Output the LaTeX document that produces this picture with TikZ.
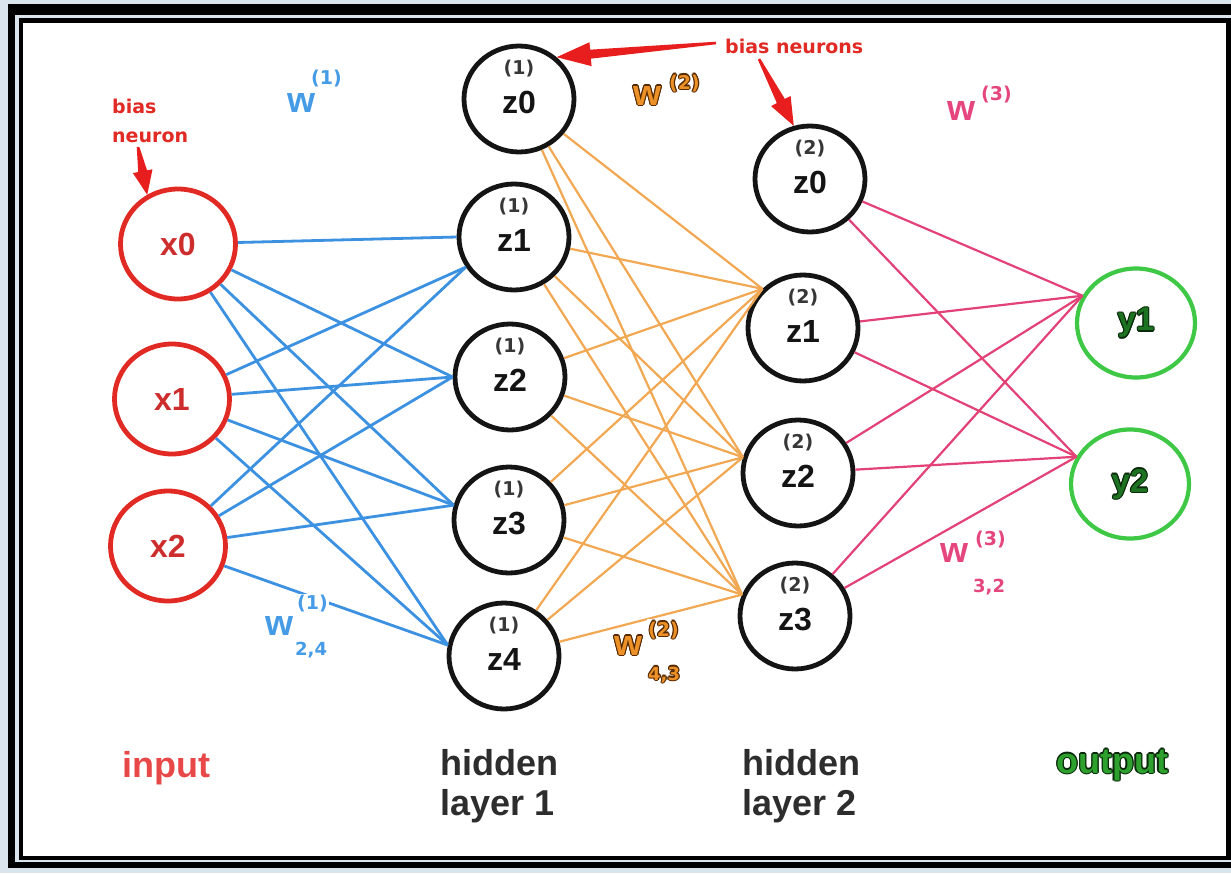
\documentclass[tikz,border=0pt]{standalone}
\usepackage{fontspec}
\setmainfont{Liberation Sans}
\newfontfamily\djv{DejaVu Sans}
\usepackage{graphicx}
\usetikzlibrary{shapes.geometric,calc}
\definecolor{framebg}{RGB}{218,228,236}
\definecolor{blk}{RGB}{20,20,20}
\definecolor{redc}{RGB}{226,42,36}
\definecolor{redtxt}{RGB}{205,45,45}
\definecolor{inputred}{RGB}{232,72,72}
\definecolor{arrowred}{RGB}{232,30,30}
\definecolor{bluec}{RGB}{60,145,225}
\definecolor{bluetxt}{RGB}{70,155,230}
\definecolor{orc}{RGB}{242,168,82}
\definecolor{ortxt}{RGB}{235,145,40}
\definecolor{orout}{RGB}{85,40,0}
\definecolor{pkc}{RGB}{226,66,118}
\definecolor{pktxt}{RGB}{228,70,125}
\definecolor{grn}{RGB}{62,200,70}
\definecolor{grntxt}{RGB}{45,160,45}
\definecolor{ygrn}{RGB}{30,115,35}
\definecolor{grnout}{RGB}{10,40,10}
\definecolor{zgray}{RGB}{55,55,55}
\definecolor{lblgray}{RGB}{45,45,45}
\newcommand\halo[3]{\leavevmode
  \rlap{\color{#1}\hspace*{-1.2pt}#3}%
  \rlap{\color{#1}\hspace*{1.2pt}#3}%
  \rlap{\color{#1}\raisebox{1.2pt}{#3}}%
  \rlap{\color{#1}\raisebox{-1.2pt}{#3}}%
  \rlap{\color{#1}\hspace*{-0.85pt}\raisebox{0.85pt}{#3}}%
  \rlap{\color{#1}\hspace*{0.85pt}\raisebox{0.85pt}{#3}}%
  \rlap{\color{#1}\hspace*{-0.85pt}\raisebox{-0.85pt}{#3}}%
  \rlap{\color{#1}\hspace*{0.85pt}\raisebox{-0.85pt}{#3}}%
  {\color{#2}#3}}
\newcommand\skarrow[4]{%
  \path ($(#2)!#3!(#1)$) coordinate (hb);
  \fill[arrowred] ($(#1)!1.3pt!90:(#2)$) -- ($(hb)!4.5pt!-90:(#1)$) -- ($(hb)!#4!-90:(#1)$) -- (#2)
     -- ($(hb)!#4!90:(#1)$) -- ($(hb)!4.5pt!90:(#1)$) -- ($(#1)!1.3pt!-90:(#2)$) -- cycle;}
\begin{document}
\begin{tikzpicture}[x=1pt,y=-1pt,
  hid/.style={ellipse,draw=blk,line width=4.8pt,minimum width=110pt,minimum height=106pt,inner sep=0pt},
  inp/.style={ellipse,draw=redc,line width=4.8pt,minimum width=115pt,minimum height=110pt,inner sep=0pt},
  outp/.style={ellipse,draw=grn,line width=4.2pt,minimum width=118pt,minimum height=109pt,inner sep=0pt},
  bl/.style={draw=bluec,line width=2.8pt},
  orl/.style={draw=orc,line width=2.2pt},
  pkl/.style={draw=pkc,line width=2.2pt},
  zsup/.style={inner sep=0pt,font=\djv\bfseries\fontsize{19}{19}\selectfont,text=zgray},
  zlab/.style={inner sep=0pt,font=\bfseries\fontsize{32}{32}\selectfont,text=blk},
  xlab/.style={inner sep=0pt,font=\bfseries\fontsize{32}{32}\selectfont,text=redtxt},
  ylab/.style={inner sep=0pt,font=\bfseries\fontsize{33}{33}\selectfont},
  txt/.style={inner sep=0pt,anchor=base west},
  wbig/.style={txt,font=\bfseries\fontsize{36}{36}\selectfont},
  wsmall/.style={txt,font=\djv\bfseries\fontsize{19}{19}\selectfont},
  wsub/.style={txt,font=\djv\bfseries\fontsize{18}{18}\selectfont},
  biaslab/.style={txt,font=\djv\bfseries\fontsize{19}{19}\selectfont,text=redc},
  layerlab/.style={txt,font=\bfseries\fontsize{36}{36}\selectfont},
  whitebg/.style={fill=white,inner sep=1pt}
]
\useasboundingbox (0,0) rectangle (1231,873);
% frame
\fill[framebg] (0,0) rectangle (1231,873);
\fill[black] (8,4) rectangle (1240,868);
\fill[framebg] (15,15) rectangle (1236,862);
\fill[black] (19,18) rectangle (1236,860);
\fill[white] (23,23) rectangle (1226,856);

% neurons
\node[inp] (x0) at (178,244) {};
\node[inp] (x1) at (172,399) {};
\node[inp] (x2) at (168,546) {};
\node[hid] (h10) at (519,99) {};
\node[hid] (h11) at (514,237) {};
\node[hid] (h12) at (510,377) {};
\node[hid] (h13) at (509,520) {};
\node[hid] (h14) at (504,656) {};
\node[hid] (h20) at (810,179) {};
\node[hid] (h21) at (803,328) {};
\node[hid] (h22) at (798,473) {};
\node[hid] (h23) at (795,616) {};
\node[outp] (y1) at (1136,323) {};
\node[outp] (y2) at (1130,484) {};

% connectors: input -> hidden 1
\draw[bl] (x0) -- (h11.180);
\foreach \s in {x1,x2} \draw[bl] (\s) -- (h11.212);
\foreach \s in {x0,x1,x2} {
  \draw[bl] (\s) -- (h12.180);
  \draw[bl] (\s) -- (h13.165);
  \draw[bl] (\s) -- (h14.169);
}
% hidden 1 -> hidden 2
\foreach \s in {h10,h11,h12,h13,h14} {
  \draw[orl] (\s) -- (h21.136);
  \draw[orl] (\s) -- (h22.164);
  \draw[orl] (\s) -- (h23.158);
}
% hidden 2 -> output
\foreach \s in {h20,h21,h22,h23} {
  \draw[pkl] (\s) -- (y1.153);
  \draw[pkl] (\s) -- (y2.153);
}

% neuron texts
\node[xlab] (tx0) at (x0) {x0};
\node[xlab] (tx1) at (x1) {x1};
\node[xlab] (tx2) at (x2) {x2};
\foreach \n/\z/\l in {h10/z0/1,h11/z1/1,h12/z2/1,h13/z3/1,h14/z4/1,h20/z0/2,h21/z1/2,h22/z2/2,h23/z3/2} {
  \node[zsup] (s\n) at ($(\n)+(0,-30)$) {(\l)};
  \node[zlab] (t\n) at ($(\n)+(0,3)$) {\z};
}
\node[ylab] (ty1) at (y1) {\halo{grnout}{ygrn}{y1}};
\node[ylab] (ty2) at (y2) {\halo{grnout}{ygrn}{y2}};

% bias labels and arrows
\node[biaslab] (bias1) at (112,113) {bias};
\node[biaslab] (bias2) at (112,142) {neuron};
\node[biaslab] (bias3) at (725,53) {bias neurons};
\coordinate (a1) at (138,147);
\coordinate (a2) at (716,43);
\coordinate (a3) at (759,59);
\skarrow{a1}{x0.122}{24pt}{10pt}
\skarrow{a2}{h10.48}{34pt}{12pt}
\skarrow{a3}{h20.107}{28pt}{11pt}

% weight labels
\node[wbig,text=bluetxt] (w1) at (287,112) {w};
\node[wsmall,text=bluetxt] (w1s) at (311,84) {(1)};
\node[wbig] (w2) at (633,105) {\halo{orout}{ortxt}{w}};
\node[wsmall] (w2s) at (669,89) {\halo{orout}{ortxt}{(2)}};
\node[wbig,text=pktxt] (w3) at (947,120) {w};
\node[wsmall,text=pktxt] (w3s) at (981,100) {(3)};

\node[wbig,text=bluetxt,whitebg,anchor=base west] (w124) at (264,635) {w};
\node[wsmall,text=bluetxt,whitebg,anchor=base west] (w124s) at (296,609) {(1)};
\node[wsub,text=bluetxt] (w124b) at (295,655) {2,4};

\node[wbig,whitebg,anchor=base west] (w243) at (613,655) {\halo{orout}{ortxt}{w}};
\node[wsmall,whitebg,anchor=base west] (w243s) at (647,636) {\halo{orout}{ortxt}{(2)}};
\node[wsub] (w243b) at (648,680) {\halo{orout}{ortxt}{4,3}};

\node[wbig,text=pktxt,whitebg,anchor=base west] (w332) at (939,562) {w};
\node[wsmall,text=pktxt,whitebg,anchor=base west] (w332s) at (974,545) {(3)};
\node[wsub,text=pktxt] (w332b) at (973,592) {3,2};

% layer captions
\node[layerlab,text=inputred] (linput) at (122,777) {input};
\node[layerlab,text=lblgray] (lh1a) at (440,775) {hidden};
\node[layerlab,text=lblgray] (lh1b) at (440,815) {layer 1};
\node[layerlab,text=lblgray] (lh2a) at (742,775) {hidden};
\node[layerlab,text=lblgray] (lh2b) at (742,815) {layer 2};
\node[layerlab] (lout) at (1056,773) {\halo{grnout}{grntxt}{output}};
\end{tikzpicture}
\end{document}
